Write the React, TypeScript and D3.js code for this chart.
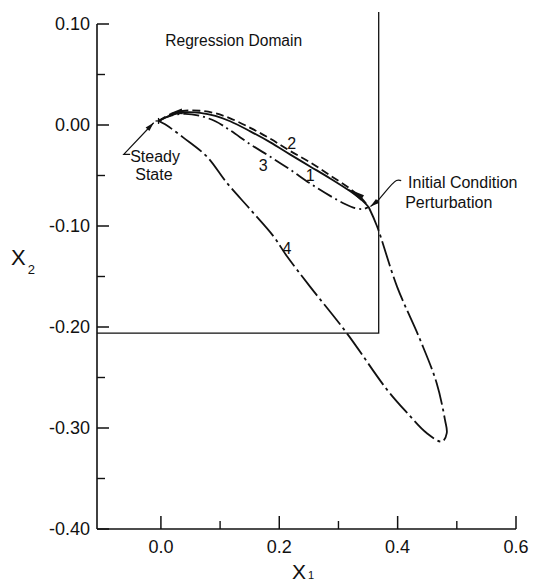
import React from "react";
import * as d3 from "d3";

// ---- axis ticks ----
const xMajorTicks = [0, 0.2, 0.4, 0.6];
const xMajorLabels = ["0.0", "0.2", "0.4", "0.6"];
const xMinorTicks = [0.1, 0.3, 0.5];
const yMajorTicks = [0.1, 0, -0.1, -0.2, -0.3, -0.4];
const yMajorLabels = ["0.10", "0.00", "-0.10", "-0.20", "-0.30", "-0.40"];
const yMinorTicks = [0.05, -0.05, -0.15, -0.25, -0.35];

// ---- trajectories (X1, X2) ----
const curve1X = [-0.004, 0.016, 0.041, 0.066, 0.092, 0.117, 0.151, 0.185, 0.218, 0.252, 0.286, 0.32, 0.34, 0.351];
const curve1Y = [0.004, 0.0096, 0.0126, 0.0121, 0.0091, 0.0037, -0.0063, -0.0172, -0.0291, -0.041, -0.0529, -0.0657, -0.0747, -0.0812];

const curve2X = [-0.004, 0.016, 0.041, 0.066, 0.092, 0.117, 0.151, 0.185, 0.218, 0.252, 0.286, 0.32, 0.34, 0.351];
const curve2Y = [0.004, 0.0106, 0.0141, 0.0141, 0.0116, 0.0066, -0.0028, -0.0137, -0.0256, -0.037, -0.0499, -0.0633, -0.0732, -0.0812];

const curve3X = [-0.004, 0.016, 0.041, 0.066, 0.092, 0.117, 0.151, 0.185, 0.218, 0.252, 0.286, 0.311, 0.33, 0.342, 0.351];
const curve3Y = [0.004, 0.0091, 0.0111, 0.0091, 0.0037, -0.0053, -0.0191, -0.0315, -0.044, -0.0578, -0.0702, -0.0782, -0.0826, -0.0831, -0.0812];

const curve4X = [0.351, 0.365, 0.399, 0.438, 0.466, 0.48, 0.483, 0.475, 0.449, 0.416, 0.382, 0.314, 0.252, 0.213, 0.19, 0.151, 0.111, 0.078, 0.038, 0.007, -0.004];
const curve4Y = [-0.0812, -0.1, -0.16, -0.2126, -0.2556, -0.292, -0.305, -0.3135, -0.305, -0.285, -0.262, -0.206, -0.16, -0.13, -0.11, -0.0836, -0.057, -0.0315, -0.0125, 0.0007, 0.004];

// ---- regression domain boundary ----
const domainEdgeX = 0.368;
const domainEdgeY = -0.206;
const domainTopY = 0.112;

// ---- points ----
const steadyState = [-0.004, 0.004];
const perturbation = [0.351, -0.0812];

// ---- curve labels ----
const curveLabels = ["1", "2", "3", "4"];
const curveLabelX = [0.2524, 0.221, 0.173, 0.213];
const curveLabelY = [-0.0559, -0.0241, -0.0459, -0.128];

const FONT = "'Liberation Sans', Arial, Helvetica, sans-serif";

function arrowHead(tip: number[], base: number[], half: number) {
  const dx = tip[0] - base[0];
  const dy = tip[1] - base[1];
  const len = Math.hypot(dx, dy) || 1;
  const nx = -dy / len;
  const ny = dx / len;
  return `${tip[0]},${tip[1]} ${base[0] + nx * half},${base[1] + ny * half} ${base[0] - nx * half},${base[1] - ny * half}`;
}

export default function App() {
  const W = 533;
  const H = 585;
  const x = d3.scaleLinear().domain([-0.108, 0.6]).range([97, 516]);
  const y = d3.scaleLinear().domain([-0.4, 0.1]).range([529, 24]);

  const line = d3
    .line<[number, number]>()
    .x((d) => x(d[0]))
    .y((d) => y(d[1]))
    .curve(d3.curveCatmullRom.alpha(0.5));

  const zip = (xs: number[], ys: number[]) => xs.map((v, i) => [v, ys[i]] as [number, number]);

  const p = (d: number[]) => [x(d[0]), y(d[1])];

  // leader lines (data units)
  const ssLeader = [[-0.052, -0.0291], [-0.0628, -0.0291], [-0.0122, 0.0022]];
  const icLeader = [[0.406, -0.055], [0.398, -0.055], [0.365, -0.0757], [0.354, -0.0806]];
  const ssLeaderPx = ssLeader.map(p);
  const icLeaderPx = icLeader.map(p);

  const straight = d3.line<number[]>().x((d) => d[0]).y((d) => d[1]);
  const icPath = d3.line<number[]>().x((d) => d[0]).y((d) => d[1]).curve(d3.curveCatmullRom.alpha(0.5));

  const ssTip = ssLeaderPx[2];
  const ssBase = ssLeaderPx[1];
  const ssDir = [ssTip[0] - ssBase[0], ssTip[1] - ssBase[1]];
  const ssLen = Math.hypot(ssDir[0], ssDir[1]);
  const ssArrowBase = [ssTip[0] - (ssDir[0] / ssLen) * 9, ssTip[1] - (ssDir[1] / ssLen) * 9];

  const icTip = icLeaderPx[3];
  const icPrev = icLeaderPx[2];
  const icDir = [icTip[0] - icPrev[0], icTip[1] - icPrev[1]];
  const icLen = Math.hypot(icDir[0], icDir[1]);
  const icArrowBase = [icTip[0] - (icDir[0] / icLen) * 9, icTip[1] - (icDir[1] / icLen) * 9];

  // trajectory arrows (pointing toward steady state)
  const arrowA = arrowHead(p([0.3147, -0.0628]), p([0.3405, -0.0722]), 3);
  const arrowB = arrowHead(p([0.014, 0.0115]), p([0.036, 0.0135]), 2.8);

  const ss = p(steadyState);

  return (
    <svg
      width={W}
      height={H}
      style={{ position: "absolute", left: 0, top: 0, background: "#fff" }}
      fontFamily={FONT}
    >
      <rect x={0} y={0} width={W} height={H} fill="#fff" />

      {/* axes */}
      <line x1={x(-0.108)} y1={y(0.1)} x2={x(-0.108)} y2={y(-0.4)} stroke="#111" strokeWidth={1.6} />
      <line x1={x(-0.108)} y1={y(-0.4)} x2={x(0.6)} y2={y(-0.4)} stroke="#111" strokeWidth={1.6} />

      {yMajorTicks.map((t, i) => (
        <g key={"ym" + i}>
          <line x1={x(-0.108)} x2={x(-0.108) + 12} y1={y(t)} y2={y(t)} stroke="#111" strokeWidth={1.5} />
          <text x={90} y={y(t)} dy="0.36em" textAnchor="end" fontSize={18} fill="#111">
            {yMajorLabels[i]}
          </text>
        </g>
      ))}
      {yMinorTicks.map((t, i) => (
        <line key={"yn" + i} x1={x(-0.108)} x2={x(-0.108) + 8} y1={y(t)} y2={y(t)} stroke="#111" strokeWidth={1.4} />
      ))}
      {xMajorTicks.map((t, i) => (
        <g key={"xm" + i}>
          <line x1={x(t)} x2={x(t)} y1={y(-0.4)} y2={y(-0.4) - 13} stroke="#111" strokeWidth={1.5} />
          <text x={x(t)} y={553} textAnchor="middle" fontSize={18} fill="#111">
            {xMajorLabels[i]}
          </text>
        </g>
      ))}
      {xMinorTicks.map((t, i) => (
        <line key={"xn" + i} x1={x(t)} x2={x(t)} y1={y(-0.4)} y2={y(-0.4) - 8} stroke="#111" strokeWidth={1.4} />
      ))}

      {/* axis titles */}
      <text x={292} y={579} fontSize={21} fill="#111">
        X
        <tspan fontSize={11} dx={2} dy={0}>1</tspan>
      </text>
      <text x={11} y={265} fontSize={22} fill="#111">
        X
        <tspan fontSize={13} dx={2} dy={9}>2</tspan>
      </text>

      {/* regression domain */}
      <polyline
        points={`${x(-0.108)},${y(domainEdgeY)} ${x(domainEdgeX)},${y(domainEdgeY)} ${x(domainEdgeX)},${y(domainTopY)}`}
        fill="none"
        stroke="#111"
        strokeWidth={1.3}
      />
      <text x={x(0.0073)} y={y(0.078)} fontSize={15.6} fill="#111">
        Regression Domain
      </text>

      {/* trajectories */}
      <path d={line(zip(curve4X, curve4Y)) || ""} fill="none" stroke="#111" strokeWidth={1.8} strokeDasharray="26,4,3,4" />
      <path d={line(zip(curve3X, curve3Y)) || ""} fill="none" stroke="#111" strokeWidth={1.8} strokeDasharray="16,4,2,4" />
      <path d={line(zip(curve2X, curve2Y)) || ""} fill="none" stroke="#111" strokeWidth={1.8} strokeDasharray="8,4" />
      <path d={line(zip(curve1X, curve1Y)) || ""} fill="none" stroke="#111" strokeWidth={1.8} />

      <polygon points={arrowA} fill="#111" />
      <polygon points={arrowB} fill="#111" />

      {curveLabels.map((l, i) => (
        <text key={"cl" + i} x={x(curveLabelX[i])} y={y(curveLabelY[i])} textAnchor="middle" fontSize={16} fill="#111">
          {l}
        </text>
      ))}

      {/* steady state marker */}
      <line x1={ss[0] - 3} x2={ss[0] + 3} y1={ss[1]} y2={ss[1]} stroke="#111" strokeWidth={1.3} />
      <line x1={ss[0]} x2={ss[0]} y1={ss[1] - 3} y2={ss[1] + 3} stroke="#111" strokeWidth={1.3} />

      {/* annotations */}
      <path d={straight(ssLeaderPx) || ""} fill="none" stroke="#111" strokeWidth={1.2} />
      <polygon points={arrowHead(ssTip, ssArrowBase, 2.6)} fill="#111" />
      <text x={x(-0.052)} y={y(-0.037)} fontSize={16} fill="#111">Steady</text>
      <text x={x(-0.0434)} y={y(-0.0549)} fontSize={16} fill="#111">State</text>

      <path d={icPath(icLeaderPx) || ""} fill="none" stroke="#111" strokeWidth={1.2} />
      <polygon points={arrowHead(icTip, icArrowBase, 2.6)} fill="#111" />
      <text x={x(0.4177)} y={y(-0.0623)} fontSize={16} fill="#111">Initial Condition</text>
      <text x={x(0.4127)} y={y(-0.0821)} fontSize={16} fill="#111">Perturbation</text>
    </svg>
  );
}
